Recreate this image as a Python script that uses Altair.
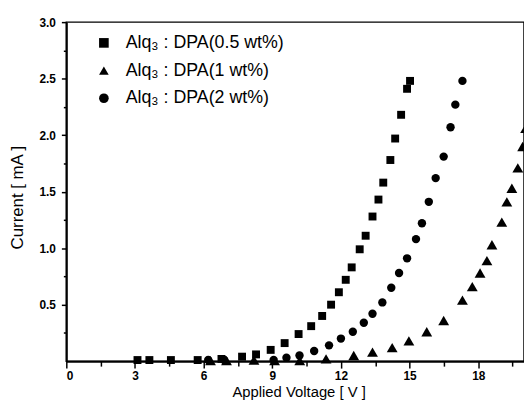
import altair as alt
import pandas as pd

series_names = ["Alq₃ : DPA(0.5 wt%)", "Alq₃ : DPA(1 wt%)", "Alq₃ : DPA(2 wt%)"]
shapes = ["square", "triangle-up", "circle"]
sizes = [64, 120, 72]

sq_v = [3.11, 3.63, 4.57, 5.74, 6.78, 7.68, 8.29, 8.93, 9.54, 10.15, 10.7, 11.18, 11.57,
        11.91, 12.21, 12.47, 12.82, 13.08, 13.38, 13.64, 13.85, 14.16, 14.37, 14.63, 14.89, 15.02]
sq_i = [0.01, 0.01, 0.01, 0.01, 0.02, 0.04, 0.06, 0.10, 0.16, 0.24, 0.31, 0.40, 0.50,
        0.61, 0.72, 0.83, 0.99, 1.11, 1.28, 1.43, 1.58, 1.78, 1.97, 2.18, 2.41, 2.48]

tr_v = [6.3, 7.0, 8.2, 9.1, 10.2, 11.35, 12.56, 13.38, 14.24, 14.97, 15.75, 16.49, 17.31,
        17.74, 18.08, 18.38, 18.6, 19.03, 19.25, 19.47, 19.73, 19.94, 20.07]
tr_i = [0.005, 0.005, 0.01, 0.005, 0.005, 0.02, 0.05, 0.08, 0.12, 0.18, 0.26, 0.36, 0.54,
        0.66, 0.78, 0.89, 1.03, 1.23, 1.41, 1.53, 1.71, 1.90, 2.06]

ci_v = [6.2, 6.9, 9.06, 9.62, 10.19, 10.83, 11.48, 12.0, 12.52, 13.0, 13.38, 13.81, 14.2,
        14.54, 14.89, 15.28, 15.54, 15.84, 16.14, 16.49, 16.79, 17.0, 17.31]
ci_i = [0.01, 0.01, 0.01, 0.03, 0.05, 0.09, 0.14, 0.20, 0.26, 0.34, 0.42, 0.52, 0.65,
        0.78, 0.91, 1.08, 1.22, 1.41, 1.62, 1.81, 2.07, 2.27, 2.48]

x_major = [0, 3, 6, 9, 12, 15, 18]
x_minor = [1.5, 4.5, 7.5, 10.5, 13.5, 16.5, 19.5]
y_major = [0.5, 1.0, 1.5, 2.0, 2.5, 3.0]
y_minor = [0.25, 0.75, 1.25, 1.75, 2.25, 2.75]

rows = []
for name, vs, is_ in zip(series_names, [sq_v, tr_v, ci_v], [sq_i, tr_i, ci_i]):
    for v, i in zip(vs, is_):
        rows.append({"series": name, "V": v, "I": i})
df = pd.DataFrame(rows)

FONT = "Liberation Sans"

xscale = alt.Scale(domain=[0, 20], nice=False, zero=False)
yscale = alt.Scale(domain=[0, 3], nice=False, zero=False)

legend = alt.Legend(title=None, orient="none", legendX=29, legendY=12,
                    symbolSize=95,
                    symbolFillColor="black", symbolStrokeColor="black",
                    labelFontSize=18, labelFont=FONT, labelColor="black",
                    labelOffset=13, labelLimit=400, rowPadding=10, padding=0)

x_enc = alt.X("V:Q", scale=xscale,
              axis=alt.Axis(values=x_major, format="d", title="Applied Voltage [ V ]",
                            tickSize=7, labelPadding=3, orient="bottom",
                            titleFontSize=15, titleX=235, titleY=36,
                            titleBaseline="alphabetic"))
y_enc = alt.Y("I:Q", scale=yscale,
              axis=alt.Axis(values=y_major, format=".1f", title="Current [ mA ]",
                            tickSize=5, labelPadding=6, titlePadding=13, orient="left",
                            titleFontSize=17, titleY=177))
shape_enc = alt.Shape("series:N", scale=alt.Scale(domain=series_names, range=shapes),
                      legend=legend)

layers = []
for name, sz in zip(series_names, sizes):
    layers.append(
        alt.Chart(df).transform_filter(alt.datum.series == name)
        .mark_point(filled=True, opacity=1, color="black", size=sz)
        .encode(x=x_enc, y=y_enc, shape=shape_enc)
    )

minor = alt.Chart(df).mark_point(opacity=0).encode(
    x=alt.X("V:Q", scale=xscale,
            axis=alt.Axis(values=x_minor, labels=False, title=None, domain=False,
                          tickSize=5, orient="bottom")),
    y=alt.Y("I:Q", scale=yscale,
            axis=alt.Axis(values=y_minor, labels=False, title=None, domain=False,
                          tickSize=3, orient="left")),
)

main = alt.layer(*layers)
chart = alt.layer(main, minor).resolve_axis(x="independent", y="independent").properties(
    width=463, height=343,
    padding={"left": 59, "top": 12, "right": 0, "bottom": 39},
    autosize=alt.AutoSizeParams(type="none"),
).configure_view(
    stroke="black", strokeWidth=1.5
).configure_axis(
    grid=False, domainColor="black", domainWidth=2, tickColor="black", tickWidth=1.5,
    labelFont=FONT, labelFontWeight="bold", labelFontSize=12, labelColor="black",
    titleFont=FONT, titleFontWeight="normal", titleColor="black",
)

chart.save("out.html", embed_options={"renderer": "svg", "actions": False})
